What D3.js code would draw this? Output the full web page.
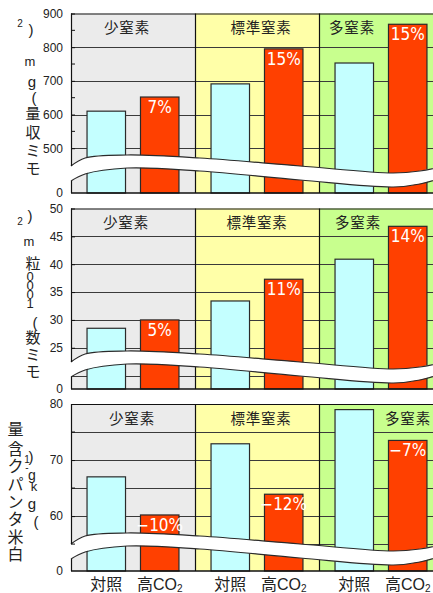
<!DOCTYPE html>
<html><head><meta charset="utf-8">
<script src="https://cdn.jsdelivr.net/npm/d3@7"></script>
<style>body{margin:0;background:#fff;overflow:hidden} svg{display:block}</style>
</head><body><svg id="c" width="433" height="593"></svg>
<script>
// ---------- data ----------
const groups = ["少窒素", "標準窒素", "多窒素"];
const treatments = ["対照", "高CO2"];

const yieldControl = [610, 691, 753];
const yieldCO2 = [652, 795, 868];
const yieldPct = ["7%", "15%", "15%"];
const yieldTicks = [500, 600, 700, 800, 900];
const yieldMinor = [550, 650, 750, 850];
const yieldGrid = [500, 600, 700, 800];
const yieldTitle = ["モ", "ミ", "収", "量", "(", "g", "m", "2", ")"];

const grainControl = [28.5, 33.4, 40.9];
const grainCO2 = [30.0, 37.3, 46.8];
const grainPct = ["5%", "11%", "14%"];
const grainTicks = [25, 30, 35, 40, 45, 50];
const grainMinor = [];
const grainGrid = [20, 25, 30, 35, 40, 45];
const grainTitle = ["モ", "ミ", "数", "(", "1", "0", "0", "0", "粒", "m", "2", ")"];

const proteinControl = [67.0, 72.9, 79.0];
const proteinCO2 = [60.2, 63.9, 73.5];
const proteinPct = ["−10%", "−12%", "−7%"];
const proteinTicks = [60, 70, 80];
const proteinMinor = [55, 65, 75];
const proteinGrid = [55, 60, 65, 70, 75];
const proteinTitle = ["白", "米", "タ", "ン", "パ", "ク", "含", "量", "(", "g", "k", "g", "-", "1", ")"];

const zeroLabel = "0";

// ---------- layout ----------
const svg = d3.select("#c");
const W = 433;
const plotLeft = 71, plotRight = 443;
const groupColors = ["#ebebeb", "#ffffa8", "#c8ff8e"];
const ctrlColor = "#c4ffff", co2Color = "#ff4000", lineColor = "#2a2a2a";
const cjk = "'Noto Sans CJK JP', 'Noto Sans CJK SC', sans-serif";
const latin = "'Liberation Sans', Arial, sans-serif";

const xGroup = d3.scaleBand().domain(groups).range([plotLeft, plotRight]).padding(0);
const xTreat = d3.scaleBand().domain(treatments).range([0, xGroup.bandwidth()])
  .paddingInner(0.28).paddingOuter(0.3);

const panels = [
  {top: 13.5, bottom: 193, floor: 367, max: 900, ctrl: yieldControl, co2: yieldCO2, pct: yieldPct,
   ticks: yieldTicks, minor: yieldMinor, grid: yieldGrid, title: yieldTitle,
   labelDx: [-6, 4, -29],
   titleLayout: [[33,167,15],[33,149,15],[33,131,15],[33,112,15],[34,97,15],[32,81,15],[30,61,13],[20,23,10],[31,29,15]]},
  {top: 208.5, bottom: 389, floor: 17.6, max: 50, ctrl: grainControl, co2: grainCO2, pct: grainPct,
   ticks: grainTicks, minor: grainMinor, grid: grainGrid, title: grainTitle,
   labelDx: [-7, 0, -23],
   titleLayout: [[33,370,15],[33,353,15],[33,336,15],[35,322,15],[30,303,13],[30,294,13],[30,285,13],[30,276,13],[33,262,15],[29,241,13],[20,221,10],[30,215,15]]},
  {top: 404, bottom: 571, floor: 50.2, max: 80, ctrl: proteinControl, co2: proteinCO2, pct: proteinPct,
   ticks: proteinTicks, minor: proteinMinor, grid: proteinGrid, title: proteinTitle,
   labelDx: [-1, 4, 27],
   titleLayout: [[15.5,553,16],[15.5,536,16],[15.5,518,16],[15.5,501,16],[15.5,483,16],[15.5,465,16],[15.5,448,16],[15.5,428,16],[36,521,15],[32,503,15],[34,486,13],[32,475,14],[27,467,10],[27,459,10],[31,456,15]]}
];

// wave shape (x fraction across visible plot, offsets above bottom)
const waveX = [0, 0.039, 0.155, 0.356, 0.633, 0.89, 0.964, 1.0];
const waveTop = [27, 35, 38, 35, 27, 20, 22, 27];
const waveBot = [12, 19, 25, 22, 13, 6, 9, 16];

panels.forEach((p, pi) => {
  const y = d3.scaleLinear().domain([p.floor, p.max]).range([p.bottom, p.top]);
  const g = svg.append("g");

  g.selectAll("rect.bg").data(groups).join("rect")
    .attr("x", d => xGroup(d)).attr("y", p.top)
    .attr("width", xGroup.bandwidth()).attr("height", p.bottom - p.top)
    .attr("fill", (d, i) => groupColors[i]);

  g.selectAll("line.grid").data(p.grid).join("line")
    .attr("x1", plotLeft).attr("x2", plotRight)
    .attr("y1", d => Math.round(y(d)) + 0.5).attr("y2", d => Math.round(y(d)) + 0.5)
    .attr("stroke", "#3a3a3a").attr("stroke-width", 1);

  const rows = groups.map((gr, i) => ({g: gr, ctrl: p.ctrl[i], co2: p.co2[i], pct: p.pct[i]}));
  g.selectAll("rect.ctrl").data(rows).join("rect")
    .attr("x", d => xGroup(d.g) + xTreat(treatments[0]))
    .attr("y", d => y(d.ctrl))
    .attr("width", xTreat.bandwidth())
    .attr("height", d => p.bottom - y(d.ctrl))
    .attr("fill", ctrlColor).attr("stroke", lineColor).attr("stroke-width", 1.2);
  g.selectAll("rect.co2").data(rows).join("rect")
    .attr("x", d => xGroup(d.g) + xTreat(treatments[1]))
    .attr("y", d => y(d.co2))
    .attr("width", xTreat.bandwidth())
    .attr("height", d => p.bottom - y(d.co2))
    .attr("fill", co2Color).attr("stroke", lineColor).attr("stroke-width", 1.2);

  g.selectAll("line.div").data(groups.slice(1)).join("line")
    .attr("x1", d => xGroup(d) + 0.5).attr("x2", d => xGroup(d) + 0.5)
    .attr("y1", p.top).attr("y2", p.bottom)
    .attr("stroke", "#111").attr("stroke-width", 1.2);

  g.selectAll("text.pct").data(rows).join("text")
    .attr("x", d => xGroup(d.g) + xTreat(treatments[1]) + xTreat.bandwidth() / 2)
    .attr("y", d => y(d.co2) + 16)
    .attr("text-anchor", "middle")
    .attr("font-family", "'Liberation Sans Narrow', 'DejaVu Sans Condensed', sans-serif")
    .attr("font-size", 17)
    .attr("fill", "#fff")
    .text(d => d.pct);

  g.selectAll("text.grp").data(groups).join("text")
    .attr("x", (d, i) => xGroup(d) + xGroup.bandwidth() / 2 + p.labelDx[i])
    .attr("y", p.top + 19.5)
    .attr("text-anchor", "middle")
    .attr("font-family", cjk).attr("font-size", 14.5)
    .attr("letter-spacing", 0.8)
    .attr("fill", "#222")
    .text(d => d);

  // wave break
  const vis = W - plotLeft;
  const topPts = waveX.map((f, i) => [plotLeft + f * vis + (i === waveX.length - 1 ? 12 : 0), p.bottom - waveTop[i]]);
  const botPts = waveX.map((f, i) => [plotLeft + f * vis + (i === waveX.length - 1 ? 12 : 0), p.bottom - waveBot[i]]);
  const line = d3.line().curve(d3.curveCatmullRom.alpha(0.5));
  const topD = line(topPts), botD = line(botPts.slice().reverse());
  g.append("path")
    .attr("d", topD + "L" + botD.slice(1) + "Z")
    .attr("fill", "#fff").attr("stroke", "none")
    .attr("transform", "translate(-1.5,0)");
  g.append("path").attr("d", line(topPts)).attr("fill", "none").attr("stroke", lineColor).attr("stroke-width", 1.2);
  g.append("path").attr("d", line(botPts)).attr("fill", "none").attr("stroke", lineColor).attr("stroke-width", 1.2);

  g.append("line").attr("x1", plotLeft).attr("x2", plotRight).attr("y1", p.top + 0.5).attr("y2", p.top + 0.5)
    .attr("stroke", "#111").attr("stroke-width", 1.2);
  g.append("line").attr("x1", plotLeft).attr("x2", plotRight).attr("y1", p.bottom).attr("y2", p.bottom)
    .attr("stroke", "#111").attr("stroke-width", 1.5);
  g.append("line").attr("x1", plotLeft + 0.5).attr("x2", plotLeft + 0.5)
    .attr("y1", p.top).attr("y2", p.bottom - waveTop[0])
    .attr("stroke", "#111").attr("stroke-width", 1.2);
  g.append("line").attr("x1", plotLeft + 0.5).attr("x2", plotLeft + 0.5)
    .attr("y1", p.bottom - waveBot[0]).attr("y2", p.bottom)
    .attr("stroke", "#111").attr("stroke-width", 1.2);

  const ax = g.append("g").attr("transform", `translate(${plotLeft},0)`)
    .call(d3.axisLeft(y).tickValues(p.ticks).tickSizeInner(-4).tickSizeOuter(0).tickPadding(8));
  ax.select(".domain").remove();
  ax.selectAll("line").attr("stroke", "#111");
  ax.selectAll("text").attr("font-family", latin).attr("font-size", 12).attr("fill", "#222");
  g.selectAll("line.minor").data(p.minor).join("line")
    .attr("x1", plotLeft).attr("x2", plotLeft + 4)
    .attr("y1", d => y(d)).attr("y2", d => y(d))
    .attr("stroke", "#111");
  g.append("text").attr("x", plotLeft - 8).attr("y", p.bottom).attr("dy", "0.32em")
    .attr("text-anchor", "end")
    .attr("font-family", latin).attr("font-size", 12).attr("fill", "#222")
    .text(zeroLabel);

  // y title: upright glyphs stacked bottom-to-top
  g.selectAll("text.ttl").data(p.title).join("text")
    .attr("x", (d, i) => p.titleLayout[i][0])
    .attr("y", (d, i) => p.titleLayout[i][1])
    .attr("font-size", (d, i) => p.titleLayout[i][2])
    .attr("text-anchor", "middle")
    .attr("dominant-baseline", "central")
    .attr("font-family", d => /[\u3000-\u9fff\u30a0-\u30ff]/.test(d) ? cjk : latin)
    .attr("fill", "#222")
    .text(d => d);
});

// category labels at bottom
const lastBottom = panels[2].bottom;
groups.forEach(gr => {
  treatments.forEach(t => {
    const cx = xGroup(gr) + xTreat(t) + xTreat.bandwidth() / 2;
    const txt = svg.append("text").attr("x", cx).attr("y", lastBottom + 18.5)
      .attr("text-anchor", "middle").attr("font-family", cjk).attr("font-size", 16)
      .attr("fill", "#222");
    if (t === "高CO2") {
      txt.append("tspan").text("高");
      txt.append("tspan").attr("font-family", "'Liberation Sans Narrow', 'Liberation Sans', sans-serif").text("CO");
      txt.append("tspan").attr("font-family", latin).attr("font-size", 10).attr("dy", 2.5).text("2");
    } else {
      txt.text(t);
    }
  });
});
</script>
</body></html>
